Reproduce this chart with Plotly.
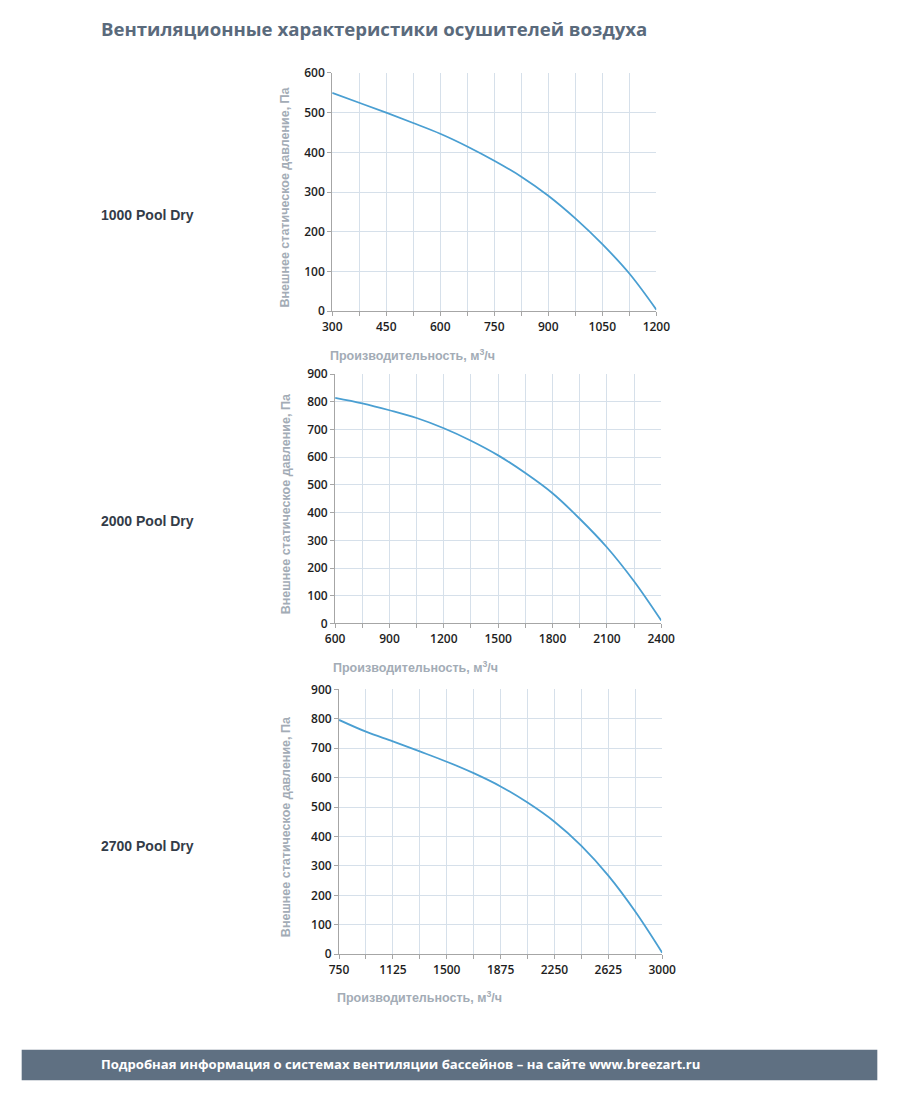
import plotly.graph_objects as go

W, H = 903, 1100

# ---- data ----
models = ["1000 Pool Dry", "2000 Pool Dry", "2700 Pool Dry"]

flow_1000 = [300, 375, 450, 525, 600, 675, 750, 825, 900, 975, 1050, 1125, 1200]
press_1000 = [550, 525, 500, 474, 447, 415, 379, 339, 291, 234, 169, 95, 4]

flow_2000 = [600, 750, 900, 1050, 1200, 1350, 1500, 1650, 1800, 1950, 2100, 2250, 2400]
press_2000 = [815, 795, 770, 742, 705, 660, 607, 543, 470, 378, 275, 152, 10]

flow_2700 = [750, 937.5, 1125, 1312.5, 1500, 1687.5, 1875, 2062.5, 2250, 2437.5, 2625, 2812.5, 3000]
press_2700 = [796, 756, 723, 689, 654, 615, 570, 515, 450, 368, 267, 145, 5]

x_ranges = [[300, 1200], [600, 2400], [750, 3000]]
x_dticks = [150, 300, 375]
y_ranges = [[0, 600], [0, 900], [0, 900]]

title_text = "Вентиляционные характеристики осушителей воздуха"
footer_text = "Подробная информация о системах вентиляции бассейнов – на сайте www.breezart.ru"
x_title = "Производительность, м<sup>3</sup>/ч"
y_title = "Внешнее статическое давление, Па"

# ---- layout geometry (pixels) ----
boxes = [  # left, right, top, bottom
    (331, 664, 65, 307),
    (334, 669, 371, 624),
    (338, 670, 691, 960),
]
label_y = [209, 520, 850]

def px(x):
    return x / W

def py(y):
    return 1 - y / H

fig = go.Figure()
series = [(flow_1000, press_1000), (flow_2000, press_2000), (flow_2700, press_2700)]

GRID = "#d6e0ea"
AXIS = "#a6a6a6"
LINE = "#4a9fd2"
TICKFONT = dict(family="Open Sans", size=12, color="#1e1e1e", weight=600)
TITLEC = "#a3acb6"

annotations = []
for i, ((fx, fy), (l, r, t, b)) in enumerate(zip(series, boxes)):
    n = "" if i == 0 else str(i + 1)
    fig.add_trace(go.Scatter(
        x=fx, y=fy, mode="lines", line=dict(color=LINE, width=1.8, shape="spline", smoothing=1.0),
        xaxis="x" + n, yaxis="y" + n, showlegend=False, hoverinfo="x+y"))
    fig.layout["xaxis" + n] = dict(
        domain=[px(l), px(r)], anchor="y" + n, range=x_ranges[i],
        dtick=x_dticks[i], tick0=x_ranges[i][0], showgrid=True, gridcolor=GRID, gridwidth=1,
        ticks="outside", ticklen=4, tickcolor=AXIS, showline=True, linecolor=AXIS, linewidth=1,
        minor=dict(dtick=x_dticks[i] / 2, tick0=x_ranges[i][0], showgrid=True, gridcolor=GRID,
                   ticks="outside", ticklen=4, tickcolor=AXIS),
        tickfont=TICKFONT, zeroline=False, fixedrange=True)
    fig.layout["yaxis" + n] = dict(
        domain=[py(b), py(t)], anchor="x" + n, range=y_ranges[i], dtick=100,
        showgrid=True, gridcolor=GRID, ticks="outside", ticklen=4, tickcolor=AXIS,
        showline=True, linecolor=AXIS, linewidth=1, tickfont=TICKFONT, zeroline=False,
        fixedrange=True)
    annotations.append(dict(
        text=x_title, xref="paper", yref="paper", x=px(l - 4), y=py(b + 44),
        xanchor="left", yanchor="middle", showarrow=False,
        font=dict(family="Liberation Sans", size=12.5, color=TITLEC, weight="bold")))
    annotations.append(dict(
        text=y_title, xref="paper", yref="paper", x=px(283), y=py((t + b) / 2 + 5),
        xanchor="center", yanchor="middle", textangle=-90, showarrow=False,
        font=dict(family="Liberation Sans", size=12.5, color=TITLEC, weight="bold")))
    annotations.append(dict(
        text=models[i], xref="paper", yref="paper", x=px(91), y=py(label_y[i]),
        xanchor="left", yanchor="middle", showarrow=False,
        font=dict(family="Liberation Sans", size=14, color="#333c48", weight="bold")))

annotations.append(dict(
    text=title_text, xref="paper", yref="paper", x=px(91), y=py(20),
    xanchor="left", yanchor="middle", showarrow=False,
    font=dict(family="Open Sans", size=18.6, color="#5a6a7c", weight="bold")))
annotations.append(dict(
    text=footer_text, xref="paper", yref="paper", x=px(91), y=py(1072),
    xanchor="left", yanchor="middle", showarrow=False,
    font=dict(family="Open Sans", size=13.1, color="#ffffff", weight="bold")))

fig.update_layout(
    width=W, height=H, margin=dict(l=0, r=0, t=0, b=0),
    paper_bgcolor="white", plot_bgcolor="white",
    annotations=annotations,
    shapes=[dict(type="rect", xref="paper", yref="paper", x0=px(12), x1=px(891),
                 y0=py(1088), y1=py(1057), fillcolor="#5f7082", line=dict(width=0), layer="below")],
)

fig.write_html("out.html", config={"displayModeBar": False},
               post_script="document.body.style.margin='0';")
